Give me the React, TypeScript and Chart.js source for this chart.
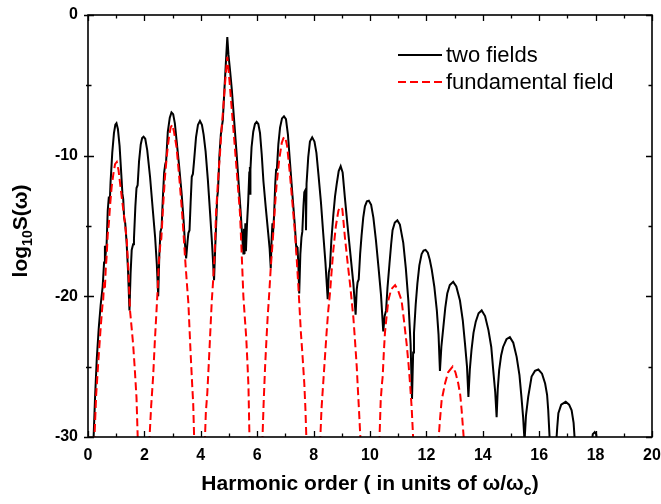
import { useEffect, useRef } from "react";
import { Chart, registerables } from "chart.js";

Chart.register(...registerables);

const FONT = "'Liberation Sans', Arial, Helvetica, sans-serif";

type Pt = [number, number | null];

const seriesLabels = ["two fields", "fundamental field"];
const xTitleMain = "Harmonic order ( in units of \u03c9/\u03c9";
const xTitleSub = "c";
const xTitleEnd = ")";
const yTitleParts = ["log", "10", "S(\u03c9)"];

const xRange = [0, 20];
const yRange = [-30, 0];
const xLabelStep = 2;
const yLabelStep = 10;

// two fields (black, solid)
const twoFields: Pt[] = [
  [0.19, -30.5], [0.25, -27.2], [0.31, -24.5], [0.38, -22.3], [0.45, -20.6], [0.52, -19.3],
  [0.57, -17.6], [0.6, -16.4], [0.63, -16.9], [0.66, -16.3], [0.7, -13.9], [0.74, -12.9],
  [0.77, -13.4], [0.8, -11.9], [0.86, -9.8], [0.92, -8.4], [0.97, -7.8], [1.01, -7.7],
  [1.06, -8.1], [1.12, -9.3], [1.18, -11.3], [1.22, -12.7], [1.25, -13.1], [1.28, -14.4],
  [1.32, -14.8], [1.37, -16.2], [1.42, -18.2], [1.47, -21.0], [1.51, -18.4], [1.55, -16.7],
  [1.6, -16.3], [1.63, -15.9], [1.68, -13.6], [1.72, -12.3], [1.76, -12.1], [1.81, -10.4],
  [1.87, -9.2], [1.92, -8.75], [1.97, -8.65], [2.03, -8.8], [2.1, -9.6], [2.2, -11.5],
  [2.3, -13.9], [2.38, -15.8], [2.44, -17.7], [2.49, -20.0], [2.53, -17.0], [2.57, -15.4],
  [2.61, -15.1], [2.65, -13.2], [2.7, -11.2], [2.74, -10.6], [2.77, -10.4], [2.83, -8.3],
  [2.9, -7.3], [2.96, -6.92], [3.02, -7.05], [3.08, -7.7], [3.14, -8.9], [3.23, -10.7],
  [3.32, -12.7], [3.39, -14.6], [3.44, -16.3], [3.48, -17.3], [3.53, -16.1], [3.56, -15.5],
  [3.6, -15.3], [3.64, -13.3], [3.68, -11.5], [3.72, -11.3], [3.76, -10.4], [3.83, -8.7],
  [3.9, -7.8], [3.97, -7.53], [4.04, -7.8], [4.1, -8.5], [4.17, -9.7], [4.25, -11.7],
  [4.33, -14.1], [4.4, -16.3], [4.47, -18.86], [4.51, -16.6], [4.55, -14.6], [4.58, -13.0],
  [4.61, -12.5], [4.66, -10.0], [4.71, -8.5], [4.75, -7.9], [4.78, -7.5], [4.84, -5.2],
  [4.9, -3.0], [4.94, -1.56], [4.98, -2.8], [5.04, -4.0], [5.1, -5.3], [5.19, -7.7],
  [5.27, -9.85], [5.35, -12.2], [5.41, -13.9], [5.46, -15.5], [5.51, -16.96], [5.53, -15.2],
  [5.55, -17.0], [5.58, -14.8], [5.6, -16.8], [5.64, -14.8], [5.68, -13.3], [5.72, -11.2],
  [5.74, -10.8], [5.745, -12.7], [5.76, -11.0], [5.8, -9.4], [5.86, -8.3], [5.92, -7.75],
  [5.98, -7.6], [6.04, -7.75], [6.1, -8.4], [6.16, -9.9], [6.22, -11.8], [6.3, -13.6],
  [6.39, -15.5], [6.44, -16.6], [6.48, -18.0], [6.51, -16.0], [6.54, -14.8], [6.57, -15.2],
  [6.6, -14.2], [6.64, -12.0], [6.67, -11.0], [6.7, -10.9], [6.75, -9.2], [6.81, -8.0],
  [6.88, -7.35], [6.95, -7.2], [7.02, -7.4], [7.09, -8.5], [7.16, -10.4], [7.25, -12.8],
  [7.34, -15.1], [7.38, -16.4], [7.41, -17.0], [7.43, -16.5], [7.46, -17.8], [7.49, -19.8],
  [7.53, -17.0], [7.57, -15.8], [7.6, -15.4], [7.64, -13.6], [7.67, -12.6], [7.72, -12.4],
  [7.73, -15.3], [7.75, -12.0], [7.81, -10.1], [7.87, -9.0], [7.95, -8.7], [8.03, -9.0],
  [8.1, -9.8], [8.17, -11.3], [8.26, -13.3], [8.34, -15.5], [8.42, -17.6], [8.5, -20.2],
  [8.54, -18.3], [8.58, -17.9], [8.63, -16.0], [8.7, -14.2], [8.76, -12.9], [8.82, -12.0],
  [8.89, -11.1], [8.96, -10.75], [9.03, -11.2], [9.11, -13.0], [9.2, -14.9], [9.29, -16.7],
  [9.41, -19.1], [9.49, -21.3], [9.53, -19.5], [9.56, -19.0], [9.6, -18.8], [9.65, -17.0],
  [9.7, -15.7], [9.76, -14.4], [9.82, -13.6], [9.89, -13.25], [9.96, -13.2], [10.04, -13.5],
  [10.12, -14.4], [10.21, -16.0], [10.3, -17.9], [10.39, -19.9], [10.47, -22.5], [10.52, -21.4],
  [10.57, -21.0], [10.62, -19.4], [10.69, -17.7], [10.75, -16.3], [10.8, -15.3], [10.88, -14.75],
  [10.97, -14.6], [11.06, -14.9], [11.18, -16.2], [11.27, -18.0], [11.36, -20.3], [11.44, -23.4],
  [11.49, -27.3], [11.53, -24.0], [11.56, -22.6], [11.62, -20.6], [11.68, -19.1], [11.75, -17.8],
  [11.83, -17.0], [11.9, -16.75], [11.97, -16.7], [12.05, -16.9], [12.12, -17.4], [12.19, -18.1],
  [12.28, -19.3], [12.37, -21.0], [12.43, -22.7], [12.48, -25.3], [12.53, -23.6], [12.6, -22.2],
  [12.67, -20.8], [12.74, -19.8], [12.83, -19.2], [12.95, -18.97], [13.06, -19.3], [13.19, -20.3],
  [13.29, -21.7], [13.37, -23.4], [13.44, -25.0], [13.49, -27.15], [13.54, -25.2], [13.6, -23.8],
  [13.67, -22.6], [13.75, -21.8], [13.85, -21.2], [13.96, -21.0], [14.08, -21.4], [14.2, -22.4],
  [14.3, -23.6], [14.37, -25.25], [14.44, -26.8], [14.49, -28.6], [14.53, -26.6], [14.58, -25.25],
  [14.65, -24.2], [14.72, -23.6], [14.84, -23.05], [14.96, -22.9], [15.08, -23.3], [15.2, -24.3],
  [15.3, -25.6], [15.37, -27.15], [15.43, -28.6], [15.48, -30.3], [15.53, -28.5], [15.61, -27.15],
  [15.73, -25.7], [15.85, -25.3], [15.97, -25.2], [16.1, -25.5], [16.21, -26.2], [16.28, -27.0],
  [16.32, -28.1], [16.38, -30.5], [16.49, null], [16.6, -30.5], [16.64, -29.3], [16.68, -28.3],
  [16.78, -27.7], [16.94, -27.5], [17.06, -27.7], [17.15, -28.1], [17.22, -29.0], [17.27, -30.5],
  [17.5, null], [17.86, -30.5], [17.9, -29.8], [17.97, -29.65], [18.02, -29.8], [18.06, -30.5],
];

// fundamental field (red, dashed)
const fundamentalField: Pt[] = [
  [0.22, -30.5], [0.29, -27.0], [0.37, -24.5], [0.45, -22.2], [0.51, -20.7], [0.54, -20.2],
  [0.57, -19.0], [0.6, -19.4], [0.63, -18.0], [0.66, -17.2], [0.7, -15.6], [0.74, -14.8],
  [0.78, -13.6], [0.84, -12.2], [0.9, -11.3], [0.96, -10.6], [1.02, -10.45], [1.08, -11.0],
  [1.14, -12.0], [1.2, -13.0], [1.28, -14.3], [1.37, -15.9], [1.43, -18.0], [1.49, -21.0],
  [1.55, -22.3], [1.6, -23.4], [1.66, -25.2], [1.72, -27.2], [1.77, -30.5], [1.97, null],
  [2.17, -30.5], [2.24, -27.8], [2.31, -25.7], [2.37, -23.2], [2.43, -21.0], [2.47, -19.5],
  [2.51, -17.6], [2.56, -16.4], [2.6, -15.9], [2.66, -13.7], [2.73, -11.5], [2.8, -9.9],
  [2.87, -8.7], [2.93, -8.0], [2.99, -7.8], [3.05, -8.3], [3.14, -9.4], [3.23, -11.4],
  [3.32, -13.6], [3.38, -15.3], [3.44, -17.2], [3.5, -18.9], [3.56, -20.5], [3.64, -24.1],
  [3.7, -26.5], [3.73, -27.6], [3.77, -30.5], [3.95, null], [4.14, -30.5], [4.18, -28.2],
  [4.23, -26.9], [4.3, -24.1], [4.39, -20.3], [4.44, -18.8], [4.49, -17.0], [4.54, -14.1],
  [4.61, -11.8], [4.68, -9.85], [4.74, -8.0], [4.8, -6.5], [4.87, -4.6], [4.94, -2.98],
  [5.01, -4.5], [5.09, -6.5], [5.18, -8.7], [5.27, -11.0], [5.34, -12.8], [5.39, -14.1],
  [5.45, -16.96], [5.51, -20.0], [5.56, -21.5], [5.61, -22.9], [5.66, -25.0], [5.69, -26.4],
  [5.73, -30.5], [5.95, null], [6.18, -30.5], [6.23, -27.5], [6.28, -25.0], [6.33, -23.0],
  [6.37, -21.5], [6.42, -20.0], [6.48, -18.0], [6.57, -15.5], [6.63, -13.6], [6.69, -12.0],
  [6.78, -10.3], [6.87, -9.1], [6.93, -8.75], [6.99, -8.67], [7.06, -9.3], [7.16, -11.3],
  [7.25, -13.4], [7.34, -15.5], [7.4, -17.3], [7.46, -19.3], [7.55, -22.6], [7.61, -24.3],
  [7.67, -26.2], [7.71, -28.0], [7.75, -30.5], [8.0, null], [8.23, -30.5], [8.28, -28.0],
  [8.34, -26.2], [8.4, -24.4], [8.46, -22.6], [8.52, -21.0], [8.58, -19.8], [8.64, -18.2],
  [8.7, -16.7], [8.79, -15.0], [8.88, -13.9], [8.95, -13.65], [9.02, -13.8], [9.11, -15.8],
  [9.2, -17.5], [9.29, -19.1], [9.41, -21.5], [9.47, -23.2], [9.53, -25.0], [9.57, -26.6],
  [9.61, -28.1], [9.67, -30.5], [10.0, null], [10.33, -30.5], [10.38, -27.4], [10.42, -26.3],
  [10.45, -25.7], [10.49, -24.0], [10.53, -22.6], [10.59, -21.4], [10.65, -20.3], [10.75, -19.5],
  [10.89, -19.2], [11.0, -19.6], [11.12, -20.3], [11.21, -21.8], [11.3, -23.4], [11.37, -24.9],
  [11.42, -26.2], [11.48, -28.0], [11.54, -30.5], [12.0, null], [12.42, -30.5], [12.48, -28.8],
  [12.54, -27.4], [12.6, -26.8], [12.66, -26.2], [12.77, -25.4], [12.93, -25.0], [13.03, -25.4],
  [13.13, -26.2], [13.2, -27.0], [13.25, -28.1], [13.34, -30.5],
];

const toXY = (pts: Pt[]) => pts.map(([x, y]) => ({ x, y }));

const framePlugin = {
  id: "frameAndTitles",
  afterDatasetsDraw(chart: any) {
    const { ctx, chartArea: a, scales } = chart;
    const xs = scales.x;
    const ys = scales.y;
    ctx.save();
    ctx.strokeStyle = "#000";
    ctx.lineWidth = 1.6;
    ctx.strokeRect(a.left, a.top, a.right - a.left, a.bottom - a.top);
    ctx.lineWidth = 1.3;
    ctx.beginPath();
    for (let v = xRange[0]; v <= xRange[1]; v += 1) {
      const px = Math.round(xs.getPixelForValue(v)) + 0.5;
      const len = v % xLabelStep === 0 ? 6 : 3.5;
      ctx.moveTo(px, a.bottom);
      ctx.lineTo(px, a.bottom - len);
      ctx.moveTo(px, a.top);
      ctx.lineTo(px, a.top + len);
    }
    for (let v = yRange[0]; v <= yRange[1]; v += 5) {
      const py = Math.round(ys.getPixelForValue(v)) + 0.5;
      const major = v % yLabelStep === 0;
      const len = major ? 6 : 3.5;
      ctx.moveTo(a.left - (major ? 4 : 2), py);
      ctx.lineTo(a.left + len, py);
      ctx.moveTo(a.right, py);
      ctx.lineTo(a.right - len, py);
    }
    ctx.stroke();
    ctx.restore();
  },
  afterDraw(chart: any) {
    const { ctx, chartArea: a } = chart;
    ctx.save();
    ctx.fillStyle = "#000";
    // x title
    const big = `bold 21px ${FONT}`;
    const small = `bold 14px ${FONT}`;
    ctx.font = big;
    const w1 = ctx.measureText(xTitleMain).width;
    const w3 = ctx.measureText(xTitleEnd).width;
    ctx.font = small;
    const w2 = ctx.measureText(xTitleSub).width;
    const total = w1 + w2 + w3;
    const cx = (a.left + a.right) / 2;
    const x0 = cx - total / 2;
    const base = 490;
    ctx.textBaseline = "alphabetic";
    ctx.textAlign = "left";
    ctx.font = big;
    ctx.fillText(xTitleMain, x0, base);
    ctx.font = small;
    ctx.fillText(xTitleSub, x0 + w1, base + 5);
    ctx.font = big;
    ctx.fillText(xTitleEnd, x0 + w1 + w2, base);

    // y title (rotated)
    ctx.save();
    const cy = 231;
    ctx.translate(27, cy);
    ctx.rotate(-Math.PI / 2);
    ctx.font = big;
    const p0 = ctx.measureText(yTitleParts[0]).width;
    const p2 = ctx.measureText(yTitleParts[2]).width;
    ctx.font = small;
    const p1 = ctx.measureText(yTitleParts[1]).width;
    const tx = -(p0 + p1 + p2) / 2;
    ctx.font = big;
    ctx.fillText(yTitleParts[0], tx, 0);
    ctx.font = small;
    ctx.fillText(yTitleParts[1], tx + p0, 5);
    ctx.font = big;
    ctx.fillText(yTitleParts[2], tx + p0 + p1, 0);
    ctx.restore();

    // legend
    const ds = chart.data.datasets;
    const rows = [55, 82];
    ds.forEach((d: any, i: number) => {
      const y = rows[i];
      ctx.save();
      ctx.strokeStyle = d.borderColor;
      ctx.lineWidth = 2;
      ctx.setLineDash(d.borderDash || []);
      ctx.beginPath();
      ctx.moveTo(398, y);
      ctx.lineTo(442, y);
      ctx.stroke();
      ctx.restore();
      ctx.font = `22px ${FONT}`;
      ctx.textBaseline = "middle";
      ctx.fillStyle = "#000";
      ctx.fillText(d.label, 446, y + 1);
    });
    ctx.restore();
  },
};

export default function App() {
  const ref = useRef<HTMLCanvasElement | null>(null);
  useEffect(() => {
    document.body.style.margin = "0";
    const canvas = ref.current;
    if (!canvas) return;
    const tickFont = { family: FONT, size: 16, weight: "bold" as const };
    const chart = new Chart(canvas, {
      type: "line",
      data: {
        datasets: [
          {
            label: seriesLabels[0],
            data: toXY(twoFields) as any,
            borderColor: "#000000",
            borderWidth: 2,
            pointRadius: 0,
            tension: 0,
            fill: false,
            spanGaps: false,
            order: 1,
          },
          {
            label: seriesLabels[1],
            data: toXY(fundamentalField) as any,
            borderColor: "#ff0000",
            borderWidth: 2,
            borderDash: [8, 4],
            pointRadius: 0,
            tension: 0,
            fill: false,
            spanGaps: false,
            order: 0,
          },
        ],
      },
      options: {
        responsive: false,
        animation: false,
        events: [],
        layout: { padding: { top: 15, right: 9, left: 0, bottom: 0 } },
        plugins: { legend: { display: false }, tooltip: { enabled: false } },
        scales: {
          x: {
            type: "linear",
            min: xRange[0],
            max: xRange[1],
            ticks: { stepSize: xLabelStep, font: tickFont, color: "#000", padding: 9, maxRotation: 0 },
            grid: { display: false, drawTicks: false },
            border: { display: false },
            afterFit: (s: any) => {
              s.height = 67;
              s.paddingLeft = 0;
              s.paddingRight = 0;
            },
          },
          y: {
            type: "linear",
            min: yRange[0],
            max: yRange[1],
            ticks: { stepSize: yLabelStep, font: tickFont, color: "#000", padding: 10 },
            grid: { display: false, drawTicks: false },
            border: { display: false },
            afterFit: (s: any) => {
              s.width = 88;
              s.paddingTop = 0;
              s.paddingBottom = 0;
            },
          },
        },
      },
      plugins: [framePlugin],
    });
    return () => chart.destroy();
  }, []);
  return (
    <div style={{ width: 661, height: 504 }}>
      <canvas ref={ref} width={661} height={504} style={{ display: "block" }} />
    </div>
  );
}
